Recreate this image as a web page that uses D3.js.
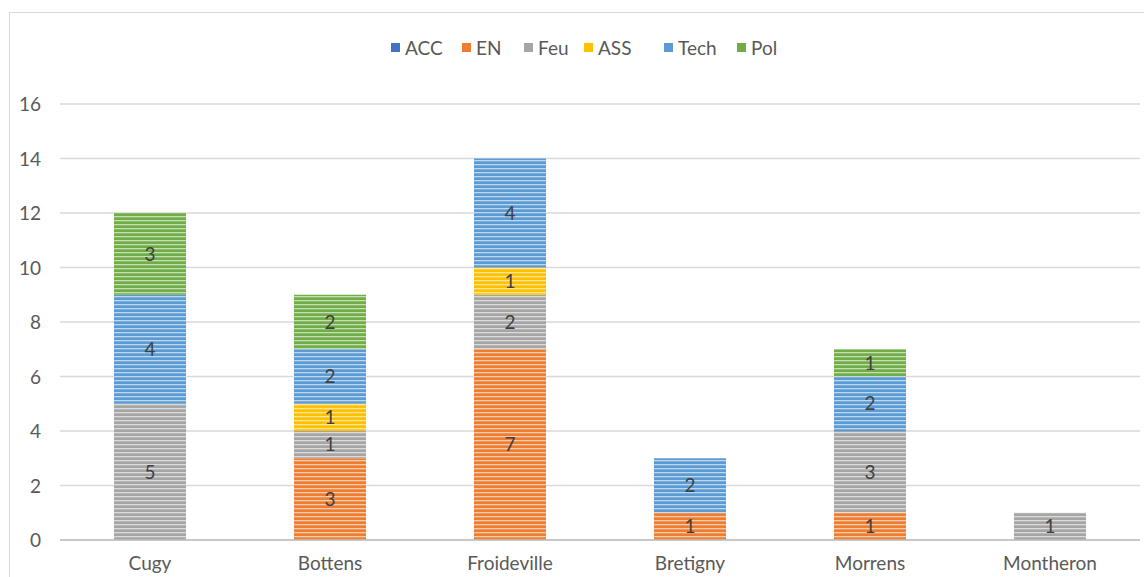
<!DOCTYPE html>
<html><head><meta charset="utf-8">
<script src="https://cdn.jsdelivr.net/npm/d3@7"></script>
<style>
html,body{margin:0;padding:0;background:#fff;}
svg{display:block;font-family:Lato,"Open Sans",sans-serif;}
</style></head>
<body>
<svg id="chart" width="1144" height="577"></svg>
<script>
const categories = ["Cugy","Bottens","Froideville","Bretigny","Morrens","Montheron"];
const seriesNames = ["ACC","EN","Feu","ASS","Tech","Pol"];
const seriesColors = ["#4472C4","#ED7D31","#A5A5A5","#FFC000","#5B9BD5","#70AD47"];
const ACC  = [0,0,0,0,0,0];
const EN   = [0,3,7,1,1,0];
const Feu  = [5,1,2,0,3,1];
const ASS  = [0,1,1,0,0,0];
const Tech = [4,2,4,2,2,0];
const Pol  = [3,2,0,0,1,0];
const yTicks = [0,2,4,6,8,10,12,14,16];

const seriesValues = [ACC,EN,Feu,ASS,Tech,Pol];
const rows = categories.map((c,i)=>{const r={cat:c}; seriesNames.forEach((s,j)=>r[s]=seriesValues[j][i]); return r;});
const stack = d3.stack().keys(seriesNames)(rows);

const svg = d3.select("#chart");
const W=1144,H=577;
const FS="19px";
// chart border
svg.append("rect").attr("x",9.5).attr("y",12.5).attr("width",W+20).attr("height",H+20)
  .attr("fill","#fff").attr("stroke","#d9d9d9").attr("stroke-width",1);

const x = d3.scaleBand().domain(categories).range([60,1140]).paddingInner(0.6).paddingOuter(0.3);
const y = d3.scaleLinear().domain([0,16]).range([540,104]);

// patterns
const defs = svg.append("defs");
seriesNames.forEach((s,j)=>{
  const p = defs.append("pattern").attr("id","pat"+j).attr("patternUnits","userSpaceOnUse")
    .attr("width",8).attr("height",4);
  p.append("rect").attr("width",8).attr("height",4).attr("fill",seriesColors[j]);
  p.append("rect").attr("y",0).attr("width",8).attr("height",1.3)
    .attr("fill",d3.interpolateRgb(seriesColors[j],"#ffffff")(0.6));
});

// gridlines
svg.append("g").selectAll("line").data(yTicks).join("line")
  .attr("x1",60).attr("x2",1140).attr("y1",d=>y(d)).attr("y2",d=>y(d))
  .attr("stroke","#d9d9d9").attr("stroke-width",1.3);

// y axis labels
const yAxis = d3.axisLeft(y).tickValues(yTicks).tickSize(0).tickPadding(0);
const ga = svg.append("g").attr("transform","translate(41,0)").call(yAxis);
ga.select(".domain").remove();
ga.selectAll("text").attr("fill","#595959").style("font-size",FS).style("font-family","Lato,sans-serif").attr("dy","0.35em");

// bars
const layers = svg.append("g").selectAll("g").data(stack).join("g")
  .attr("fill",(d,i)=>"url(#pat"+i+")");
layers.selectAll("rect").data(d=>d.map(v=>({v,key:d.key}))).join("rect")
  .attr("x",d=>x(d.v.data.cat)).attr("width",x.bandwidth())
  .attr("y",d=>y(d.v[1])).attr("height",d=>y(d.v[0])-y(d.v[1]));

// value labels
const labels = svg.append("g");
stack.forEach(layer=>{
  layer.forEach(v=>{
    const val=v[1]-v[0];
    if(val>0){
      labels.append("text").attr("x",x(v.data.cat)+x.bandwidth()/2).attr("y",y((v[0]+v[1])/2))
        .attr("dy","0.35em").attr("text-anchor","middle").attr("fill","#404040")
        .style("font-size",FS).text(val);
    }
  });
});

// baseline
svg.append("line").attr("x1",60).attr("x2",1140).attr("y1",y(0)).attr("y2",y(0))
  .attr("stroke","#bfbfbf").attr("stroke-width",1.5);

// x axis labels
const xAxis = d3.axisBottom(x).tickSize(0).tickPadding(0);
const gx = svg.append("g").attr("transform","translate(0,556)").call(xAxis);
gx.select(".domain").remove();
gx.selectAll("text").attr("fill","#595959").style("font-size",FS).style("font-family","Lato,sans-serif").attr("dy","0.71em");

// legend
const legendX = [391,462,524,584,664,737];
const lg = svg.append("g");
seriesNames.forEach((s,j)=>{
  lg.append("rect").attr("x",legendX[j]).attr("y",43).attr("width",9).attr("height",9).attr("fill",seriesColors[j]);
  lg.append("text").attr("x",legendX[j]+14).attr("y",48).attr("dy","0.35em").attr("fill","#595959")
    .style("font-size",FS).text(s);
});
</script>
</body></html>
